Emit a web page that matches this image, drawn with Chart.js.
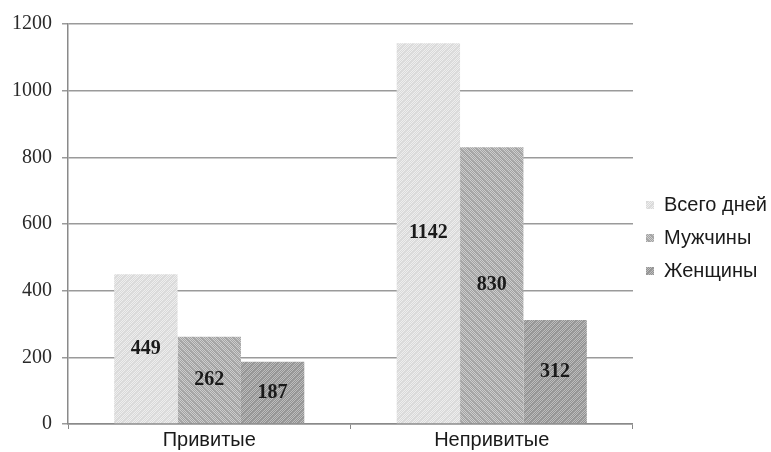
<!DOCTYPE html>
<html>
<head>
<meta charset="utf-8">
<script src="https://cdn.jsdelivr.net/npm/chart.js@4.4.0/dist/chart.umd.min.js"></script>
<style>
  html, body { margin: 0; padding: 0; background: #fff; }
  #wrap { width: 771px; height: 452px; }
</style>
</head>
<body>
<div id="wrap"><canvas id="myChart"></canvas></div>
<script>
var categories = ['Привитые', 'Непривитые']
var seriesNames = ['Всего дней', 'Мужчины', 'Женщины']
var totalDays = [449, 1142]
var men = [262, 830]
var women = [187, 312]
var yTicks = [0, 200, 400, 600, 800, 1000, 1200]

// dithered grey fill, like the scanned print
function makePattern(light, dark, stripe, dir) {
    var c = document.createElement('canvas')
    c.width = 8
    c.height = 8
    var g = c.getContext('2d')
    for (var y = 0; y < 8; y++) {
        for (var x = 0; x < 8; x++) {
            g.fillStyle = ((x + y) % 2 == 0) ? light : dark
            var d = dir > 0 ? (x + y) % 8 : (x - y + 8) % 8
            if (d < 2) g.fillStyle = stripe
            g.fillRect(x, y, 1, 1)
        }
    }
    return g.createPattern(c, 'repeat')
}

var fill1 = makePattern('#eeeeee', '#d9d9d9', '#dcdcdc', 1)
var fill2 = makePattern('#cdcdcd', '#a2a2a2', '#a8a8a8', -1)
var fill3 = makePattern('#bdbdbd', '#929292', '#9a9a9a', 1)

var barLabels = {
    id: 'barLabels',
    afterDatasetsDraw: function (chart) {
        var ctx = chart.ctx
        ctx.save()
        ctx.font = 'bold 20px "Liberation Serif", "Times New Roman", serif'
        ctx.fillStyle = '#1a1a1a'
        ctx.textAlign = 'center'
        ctx.textBaseline = 'middle'
        chart.data.datasets.forEach(function (ds, i) {
            chart.getDatasetMeta(i).data.forEach(function (bar, j) {
                ctx.fillText(ds.data[j], bar.x, (bar.y + bar.base) / 2)
            })
        })
        ctx.restore()
    }
}

const ctx = document.getElementById('myChart')

new Chart(ctx, {
    type: 'bar',
    data: {
        labels: categories,
        datasets: [
            { label: seriesNames[0], data: totalDays, backgroundColor: fill1 },
            { label: seriesNames[1], data: men, backgroundColor: fill2 },
            { label: seriesNames[2], data: women, backgroundColor: fill3 }
        ]
    },
    options: {
        responsive: true,
        maintainAspectRatio: false,
        animation: false,
        layout: { padding: { top: 24, left: 2, right: -6, bottom: 0 } },
        datasets: { bar: { barPercentage: 1, categoryPercentage: 0.673 } },
        plugins: {
            legend: {
                position: 'right',
                labels: {
                    boxWidth: 8,
                    boxHeight: 8,
                    padding: 13,
                    color: '#1a1a1a',
                    font: { family: '"Liberation Sans", Arial, sans-serif', size: 20 }
                }
            },
            tooltip: { enabled: false }
        },
        scales: {
            x: {
                grid: {
                    offset: true,
                    drawOnChartArea: false,
                    drawTicks: true,
                    tickLength: 5,
                    color: '#888888'
                },
                border: { color: '#8a8a8a', width: 1.5 },
                ticks: {
                    color: '#1a1a1a',
                    padding: 4,
                    font: { family: '"Liberation Sans", Arial, sans-serif', size: 20, lineHeight: 0.75 }
                }
            },
            y: {
                min: 0,
                max: 1200,
                afterBuildTicks: function (axis) {
                    axis.ticks = yTicks.map(function (v) { return { value: v } })
                },
                grid: {
                    color: '#9a9a9a',
                    lineWidth: 1.5,
                    tickLength: 6
                },
                border: { color: '#8a8a8a', width: 1.5 },
                ticks: {
                    color: '#2a2a2a',
                    padding: 10,
                    callback: function (v) { return String(v) },
                    font: { family: '"Liberation Serif", "Times New Roman", serif', size: 20 }
                }
            }
        }
    },
    plugins: [barLabels]
})
</script>
</body>
</html>
